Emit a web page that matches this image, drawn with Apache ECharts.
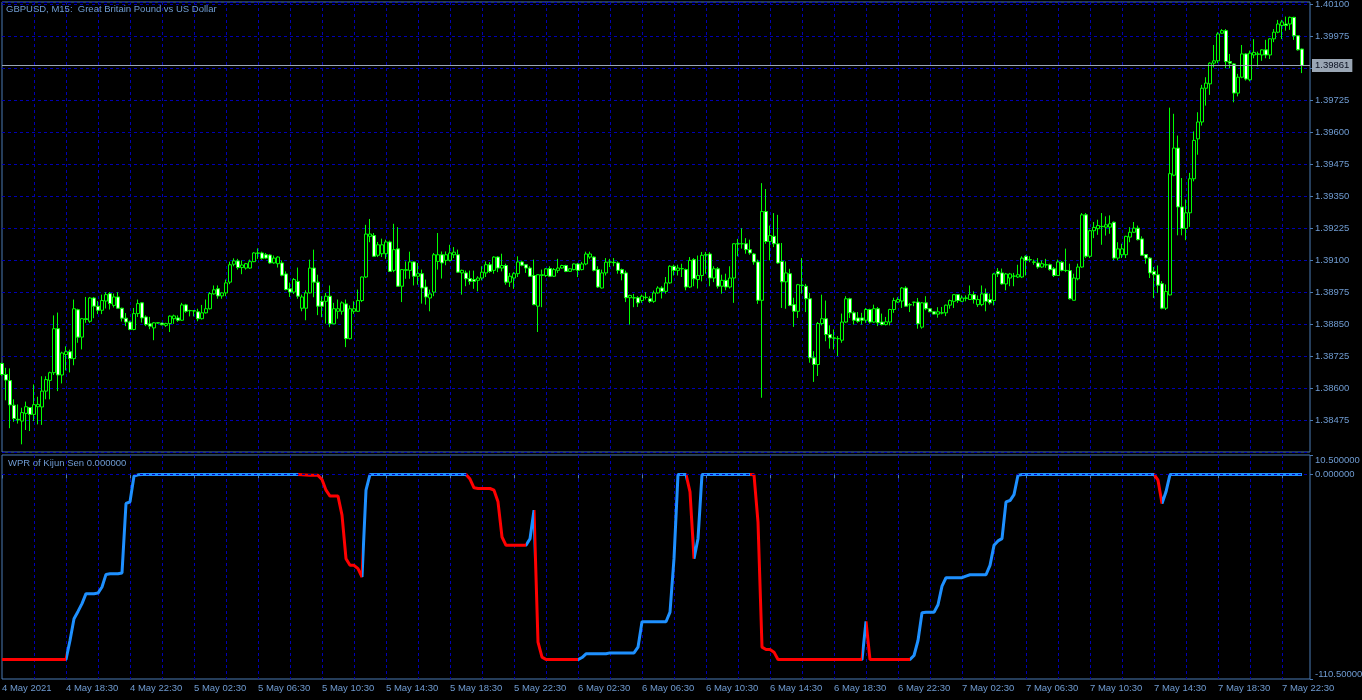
<!DOCTYPE html>
<html>
<head>
<meta charset="utf-8">
<script src="https://cdn.jsdelivr.net/npm/echarts@6/dist/echarts.min.js"></script>
<style>
html,body{margin:0;padding:0;background:#000;}
#c{width:1362px;height:700px;}
</style>
</head>
<body>
<div id="c"></div>
<script>
// ---------- data ----------
const symbolTitle = 'GBPUSD, M15:  Great Britain Pound vs US Dollar';
const indicatorTitle = 'WPR of Kijun Sen 0.000000';
const firstDateLabel = '4 May 2021';
const startTimeUTC = Date.UTC(2021, 4, 4, 14, 30); // first bar: 4 May 14:30, M15 bars
const barMinutes = 15;
const lastPrice = 1.39861;

const openP = [
1.38696,1.38653,1.38629,1.38533,1.38478,1.38471,1.38501,1.38524,1.38497,1.38527,
1.38526,1.38588,1.38630,1.38660,1.38832,1.38651,1.38731,1.38742,1.38715,1.38906,
1.38799,1.38871,1.38861,1.38952,1.38920,1.38904,1.38940,1.38969,1.38923,1.38956,
1.38912,1.38873,1.38858,1.38829,1.38891,1.38933,1.38878,1.38851,1.38835,1.38855,
1.38854,1.38845,1.38852,1.38871,1.38874,1.38865,1.38925,1.38903,1.38902,1.38898,
1.38871,1.38894,1.38910,1.38968,1.38988,1.38960,1.38972,1.39014,1.39084,1.39097,
1.39071,1.39069,1.39069,1.39094,1.39128,1.39128,1.39121,1.39120,1.39089,1.39086,
1.39089,1.39046,1.38988,1.38975,1.39017,1.38912,1.38912,1.38972,1.39069,1.39014,
1.38939,1.38939,1.38959,1.38851,1.38900,1.38900,1.38929,1.38793,1.38900,1.38900,
1.38942,1.39034,1.39193,1.39196,1.39119,1.39125,1.39125,1.39171,1.39060,1.39144,
1.38998,1.39060,1.39060,1.39093,1.39037,1.39047,1.38995,1.38952,1.38975,1.39095,
1.39121,1.39099,1.39099,1.39121,1.39121,1.39050,1.39050,1.39028,1.39024,1.39021,
1.39030,1.39050,1.39082,1.39060,1.39112,1.39069,1.39079,1.39014,1.39030,1.39047,
1.39093,1.39082,1.39069,1.39040,1.38920,1.39040,1.39040,1.39067,1.39037,1.39060,
1.39069,1.39079,1.39056,1.39063,1.39085,1.39063,1.39085,1.39112,1.39112,1.39063,
1.38991,1.39050,1.39092,1.39092,1.39089,1.39063,1.39050,1.38953,1.38953,1.38953,
1.38942,1.38955,1.38949,1.38939,1.38972,1.38991,1.38978,1.39011,1.39076,1.39060,
1.39066,1.39063,1.38995,1.39102,1.39024,1.39040,1.39121,1.39124,1.39030,1.39066,
1.38998,1.39021,1.38995,1.39030,1.39164,1.39164,1.39164,1.39141,1.39124,1.39093,
1.38943,1.39290,1.39173,1.39193,1.39164,1.39095,1.39015,1.39047,1.38926,1.38900,
1.39002,1.38998,1.38949,1.38718,1.38692,1.38852,1.38871,1.38809,1.38796,1.38793,
1.38787,1.38858,1.38949,1.38894,1.38874,1.38874,1.38865,1.38907,1.38858,1.38910,
1.38858,1.38848,1.38858,1.38907,1.38936,1.38940,1.38991,1.38926,1.38935,1.38936,
1.38838,1.38933,1.38910,1.38898,1.38889,1.38894,1.38894,1.38924,1.38939,1.38965,
1.38939,1.38952,1.38946,1.38965,1.38926,1.38926,1.38969,1.38946,1.38942,1.39056,
1.39050,1.39007,1.39030,1.39037,1.39034,1.39034,1.39115,1.39102,1.39093,1.39089,
1.39073,1.39082,1.39082,1.39066,1.39040,1.39092,1.39060,1.39059,1.38943,1.39027,
1.39073,1.39277,1.39115,1.39215,1.39223,1.39232,1.39229,1.39229,1.39248,1.39108,
1.39121,1.39121,1.39190,1.39209,1.39225,1.39183,1.39122,1.39108,1.39056,1.39043,
1.39008,1.38912,1.38964,1.39432,1.39538,1.39308,1.39224,1.39285,1.39418,1.39574,
1.39640,1.39772,1.39789,1.39870,1.39879,1.39987,1.39997,1.39876,1.39867,1.39753,
1.39815,1.39906,1.39805,1.39902,1.39906,1.39902,1.39922,1.39902,1.39965,1.39991,
1.40017,1.40023,1.40023,1.40049,1.39977,1.39925
];
const closeP = [
1.38653,1.38631,1.38534,1.38481,1.38475,1.38504,1.38527,1.38497,1.38535,1.38536,
1.38588,1.38633,1.38660,1.38832,1.38651,1.38737,1.38742,1.38715,1.38910,1.38799,
1.38871,1.38868,1.38952,1.38920,1.38904,1.38942,1.38965,1.38930,1.38956,1.38912,
1.38873,1.38858,1.38829,1.38891,1.38930,1.38874,1.38848,1.38842,1.38855,1.38854,
1.38847,1.38852,1.38881,1.38882,1.38865,1.38925,1.38900,1.38902,1.38901,1.38871,
1.38894,1.38910,1.38969,1.38984,1.38960,1.38972,1.39011,1.39082,1.39097,1.39071,
1.39081,1.39086,1.39094,1.39128,1.39127,1.39107,1.39108,1.39089,1.39108,1.39112,
1.39041,1.38985,1.38975,1.39024,1.38959,1.38956,1.38972,1.39069,1.39014,1.38920,
1.38920,1.38959,1.38851,1.38910,1.38910,1.38933,1.38793,1.38910,1.38910,1.38942,
1.39034,1.39202,1.39202,1.39115,1.39160,1.39160,1.39171,1.39056,1.39141,1.38998,
1.39063,1.39063,1.39093,1.39037,1.39047,1.38991,1.38956,1.38968,1.39121,1.39121,
1.39089,1.39121,1.39128,1.39131,1.39053,1.39060,1.39027,1.39017,1.39017,1.39030,
1.39053,1.39082,1.39056,1.39112,1.39069,1.39079,1.39014,1.39037,1.39047,1.39093,
1.39080,1.39069,1.39037,1.38926,1.39043,1.39043,1.39066,1.39037,1.39063,1.39069,
1.39079,1.39056,1.39066,1.39085,1.39060,1.39085,1.39124,1.39124,1.39060,1.38995,
1.39050,1.39092,1.39093,1.39090,1.39060,1.39047,1.38953,1.38962,1.38952,1.38933,
1.38959,1.38954,1.38939,1.38972,1.38991,1.38978,1.39011,1.39076,1.39060,1.39069,
1.39067,1.38995,1.39099,1.39027,1.39040,1.39119,1.39120,1.39030,1.39066,1.38998,
1.39021,1.38995,1.39030,1.39164,1.39163,1.39164,1.39141,1.39128,1.39093,1.38943,
1.39290,1.39173,1.39196,1.39164,1.39089,1.39015,1.39050,1.38923,1.38900,1.39004,
1.39001,1.38949,1.38718,1.38692,1.38852,1.38871,1.38809,1.38796,1.38795,1.38793,
1.38858,1.38949,1.38894,1.38865,1.38861,1.38865,1.38907,1.38858,1.38910,1.38855,
1.38848,1.38859,1.38907,1.38942,1.38946,1.38991,1.38920,1.38925,1.38936,1.38851,
1.38933,1.38910,1.38898,1.38889,1.38898,1.38893,1.38924,1.38942,1.38965,1.38942,
1.38952,1.38951,1.38965,1.38946,1.38946,1.38968,1.38939,1.38933,1.39046,1.39046,
1.39007,1.39046,1.39046,1.39038,1.39043,1.39108,1.39099,1.39101,1.39092,1.39073,
1.39086,1.39081,1.39063,1.39040,1.39093,1.39060,1.39059,1.38949,1.39030,1.39073,
1.39277,1.39115,1.39215,1.39228,1.39235,1.39231,1.39238,1.39242,1.39108,1.39144,
1.39144,1.39193,1.39209,1.39225,1.39180,1.39119,1.39108,1.39050,1.39043,1.39002,
1.38912,1.38977,1.39438,1.39538,1.39308,1.39224,1.39285,1.39418,1.39568,1.39640,
1.39772,1.39792,1.39870,1.39879,1.39984,1.39997,1.39876,1.39870,1.39753,1.39815,
1.39906,1.39808,1.39909,1.39912,1.39905,1.39922,1.39902,1.39965,1.39991,1.40023,
1.40031,1.40017,1.40049,1.39977,1.39922,1.39861
];
const lowP = [
1.38647,1.38552,1.38443,1.38468,1.38461,1.38380,1.38436,1.38432,1.38471,1.38458,
1.38456,1.38556,1.38556,1.38651,1.38588,1.38618,1.38669,1.38661,1.38689,1.38777,
1.38751,1.38855,1.38855,1.38873,1.38889,1.38889,1.38911,1.38907,1.38915,1.38910,
1.38860,1.38842,1.38826,1.38826,1.38878,1.38856,1.38842,1.38830,1.38787,1.38852,
1.38846,1.38839,1.38819,1.38851,1.38859,1.38863,1.38894,1.38880,1.38880,1.38861,
1.38868,1.38891,1.38907,1.38965,1.38949,1.38949,1.38959,1.39006,1.39076,1.39063,
1.39045,1.39063,1.39066,1.39092,1.39105,1.39102,1.39105,1.39086,1.39086,1.39071,
1.39037,1.38982,1.38956,1.38968,1.38949,1.38900,1.38865,1.38970,1.38955,1.38885,
1.38877,1.38852,1.38838,1.38849,1.38871,1.38887,1.38760,1.38790,1.38890,1.38898,
1.38936,1.39030,1.39170,1.39112,1.39112,1.39112,1.39105,1.39054,1.39053,1.38996,
1.38936,1.39027,1.39027,1.39001,1.39004,1.38930,1.38926,1.38900,1.38959,1.39063,
1.39028,1.39080,1.39095,1.39108,1.39050,1.38965,1.38998,1.39004,1.38988,1.38978,
1.39021,1.39034,1.39050,1.39047,1.39053,1.39056,1.39004,1.38995,1.38988,1.39034,
1.39076,1.39050,1.39034,1.38924,1.38819,1.38916,1.39034,1.39034,1.39034,1.39050,
1.39067,1.39053,1.39054,1.39060,1.39034,1.39060,1.39080,1.39105,1.39056,1.38991,
1.38989,1.39040,1.39073,1.39076,1.39047,1.39021,1.38936,1.38848,1.38916,1.38917,
1.38933,1.38946,1.38933,1.38933,1.38969,1.38950,1.38969,1.39008,1.39040,1.39040,
1.39034,1.38982,1.38991,1.38998,1.38989,1.39017,1.39047,1.38998,1.39014,1.38989,
1.38969,1.38982,1.38989,1.38933,1.39115,1.39145,1.39125,1.39121,1.39082,1.38929,
1.38562,1.39164,1.39099,1.39151,1.39086,1.38913,1.38910,1.38920,1.38839,1.38874,
1.38969,1.38897,1.38699,1.38624,1.38647,1.38845,1.38783,1.38754,1.38751,1.38725,
1.38777,1.38855,1.38874,1.38848,1.38855,1.38848,1.38855,1.38852,1.38855,1.38842,
1.38845,1.38845,1.38845,1.38894,1.38933,1.38913,1.38917,1.38897,1.38920,1.38832,
1.38832,1.38904,1.38897,1.38888,1.38875,1.38888,1.38881,1.38910,1.38913,1.38933,
1.38936,1.38939,1.38945,1.38930,1.38917,1.38920,1.38900,1.38926,1.38923,1.39034,
1.39004,1.38982,1.38998,1.38998,1.39030,1.39030,1.39040,1.39092,1.39082,1.39066,
1.39070,1.39070,1.39059,1.39034,1.39040,1.39056,1.39053,1.38946,1.38943,1.39021,
1.39070,1.39108,1.39108,1.39186,1.39199,1.39160,1.39196,1.39203,1.39099,1.39099,
1.39108,1.39108,1.39170,1.39207,1.39177,1.39118,1.39086,1.39030,1.38952,1.38972,
1.38908,1.38905,1.38962,1.39428,1.39197,1.39197,1.39178,1.39230,1.39408,1.39512,
1.39626,1.39704,1.39746,1.39853,1.39870,1.39985,1.39850,1.39850,1.39717,1.39740,
1.39811,1.39802,1.39799,1.39889,1.39857,1.39879,1.39889,1.39886,1.39952,1.39987,
1.39964,1.39997,1.40000,1.39961,1.39919,1.39831
];
const highP = [
1.38699,1.38679,1.38677,1.38556,1.38536,1.38523,1.38547,1.38526,1.38614,1.38566,
1.38646,1.38646,1.38664,1.38884,1.38895,1.38742,1.38763,1.38750,1.38946,1.38910,
1.38874,1.38956,1.38956,1.38956,1.38940,1.38965,1.38975,1.38975,1.38969,1.38975,
1.38914,1.38893,1.38863,1.38913,1.38946,1.38935,1.38884,1.38878,1.38858,1.38856,
1.38855,1.38855,1.38884,1.38887,1.38884,1.38933,1.38929,1.38906,1.38904,1.38910,
1.38925,1.38946,1.38975,1.39001,1.39001,1.38974,1.39024,1.39094,1.39107,1.39105,
1.39099,1.39089,1.39102,1.39131,1.39146,1.39133,1.39128,1.39123,1.39118,1.39115,
1.39099,1.39056,1.39012,1.39030,1.39071,1.38965,1.38982,1.39102,1.39141,1.39043,
1.38959,1.38972,1.39001,1.38933,1.38946,1.38939,1.38946,1.38923,1.38939,1.38985,
1.39036,1.39238,1.39261,1.39206,1.39171,1.39184,1.39180,1.39176,1.39242,1.39229,
1.39065,1.39095,1.39133,1.39095,1.39089,1.39063,1.39024,1.38985,1.39128,1.39206,
1.39134,1.39134,1.39160,1.39151,1.39141,1.39063,1.39059,1.39059,1.39059,1.39037,
1.39076,1.39095,1.39092,1.39115,1.39115,1.39125,1.39086,1.39050,1.39053,1.39115,
1.39098,1.39084,1.39076,1.39102,1.39045,1.39063,1.39069,1.39076,1.39069,1.39105,
1.39082,1.39082,1.39069,1.39087,1.39089,1.39093,1.39133,1.39133,1.39115,1.39076,
1.39063,1.39108,1.39105,1.39108,1.39095,1.39067,1.39059,1.38965,1.38968,1.38959,
1.38965,1.38975,1.38959,1.38981,1.38998,1.38998,1.39034,1.39080,1.39082,1.39082,
1.39086,1.39067,1.39112,1.39108,1.39118,1.39132,1.39132,1.39131,1.39076,1.39073,
1.39043,1.39047,1.39076,1.39166,1.39183,1.39225,1.39186,1.39180,1.39128,1.39102,
1.39401,1.39378,1.39235,1.39284,1.39277,1.39167,1.39095,1.39066,1.38953,1.39007,
1.39108,1.39007,1.38972,1.38744,1.38858,1.38965,1.38942,1.38845,1.38829,1.38803,
1.38891,1.38959,1.38953,1.38900,1.38897,1.38894,1.38913,1.38910,1.38926,1.38917,
1.38891,1.38878,1.38910,1.38953,1.38955,1.38995,1.38998,1.38933,1.38937,1.38952,
1.38936,1.38959,1.38913,1.38901,1.38916,1.38917,1.38926,1.38946,1.38966,1.38966,
1.38962,1.38962,1.39001,1.38978,1.38962,1.39001,1.38989,1.38969,1.39050,1.39069,
1.39067,1.39050,1.39050,1.39050,1.39082,1.39115,1.39119,1.39115,1.39102,1.39108,
1.39099,1.39105,1.39086,1.39073,1.39102,1.39096,1.39145,1.39086,1.39047,1.39086,
1.39284,1.39284,1.39219,1.39249,1.39258,1.39284,1.39271,1.39275,1.39251,1.39170,
1.39164,1.39195,1.39229,1.39249,1.39235,1.39193,1.39123,1.39112,1.39073,1.39079,
1.39018,1.39005,1.39696,1.39672,1.39587,1.39421,1.39337,1.39441,1.39603,1.39678,
1.39785,1.39815,1.39873,1.39941,1.39991,1.40003,1.40003,1.39906,1.39870,1.39828,
1.39941,1.39909,1.39919,1.39964,1.39915,1.39924,1.39961,1.39967,1.40003,1.40039,
1.40039,1.40052,1.40052,1.40051,1.39979,1.39927
];
// WPR of Kijun Sen, one value per bar
const wpr = [
-100,-100,-100,-100,-100,-100,-100,-100,-100,-100,
-100,-100,-100,-100,-100,-100,-100,-89.7,-78,-74,
-69.8,-64.4,-64.4,-64.4,-64.1,-60.8,-54,-53.6,-53.6,-53.6,
-53.2,-15.7,-14.8,-0.9,-0.2,0,0,0,0,0,
0,0,0,0,0,0,0,0,0,0,
0,0,0,0,0,0,0,0,0,0,
0,0,0,0,0,0,0,0,0,0,
0,0,0,0,0,-0.2,-0.3,-0.4,-0.45,-0.5,
-2.7,-8.5,-11.7,-11.7,-11.7,-22,-45.5,-49.1,-49.1,-50.9,
-55.4,-8.5,0,0,0,0,0,0,0,0,
0,0,0,0,0,0,0,0,0,0,
0,0,0,0,0,0,0,-2.5,-7.2,-7.6,
-7.6,-7.6,-7.6,-8.5,-14.8,-33.8,-38.3,-38.3,-38.3,-38.3,
-38.3,-38.3,-34.7,-19.3,-90.6,-98.7,-100,-100,-100,-100,
-100,-100,-100,-100,-100,-98.9,-96.9,-96.9,-96.9,-96.9,
-96.9,-96.9,-96.4,-96.4,-96.4,-96.4,-96.4,-96.4,-96.4,-93.3,
-79.6,-79.6,-79.6,-79.6,-79.6,-79.6,-79.6,-74.4,-45.5,0,
0,0,-9.4,-45.5,-34.7,0,0,0,0,0,
0,0,0,0,0,0,0,0,-0.2,-25.7,
-93.3,-94.6,-94.6,-96,-100,-100,-100,-100,-100,-100,
-100,-100,-100,-100,-100,-100,-100,-100,-100,-100,
-100,-100,-100,-100,-100,-100,-79.4,-100,-100,-100,
-100,-100,-100,-100,-100,-100,-100,-100,-97.8,-89.7,
-74.7,-74.4,-74.4,-74.4,-70.4,-60.3,-55.8,-55.8,-55.8,-55.8,
-55.8,-54.9,-54.2,-54.2,-54.2,-54.2,-54.2,-49.1,-38.3,-35.9,
-34.7,-14.8,-14.1,-10.9,-0.4,0,0,0,0,0,
0,0,0,0,0,0,0,0,0,0,
0,0,0,0,0,0,0,0,0,0,
0,0,0,0,0,0,0,0,0,-3.1,
-15.7,-9.4,0,0,0,0,0,0,0,0,
0,0,0,0,0,0,0,0,0,0,
0,0,0,0,0,0,0,0,0,0,
0,0,0,0,0,0
];
const wprAxisLabels = [-110.5, 0, 10.5];
const priceTickStep = 0.00125;

// ---------- styles ----------
const BG = '#000000';
const TEXT = '#6f9bd1';
const BORDER = '#4a7ab4';
const GRIDC = '#0000b4';
const FONT = '"Liberation Sans", Arial, sans-serif';
const FS = 9.5;
const UP_COLOR = '#1e90ff';
const DOWN_COLOR = '#ff0000';

// category labels (bar times)
const MONTHS = ['Jan','Feb','Mar','Apr','May','Jun','Jul','Aug','Sep','Oct','Nov','Dec'];
const pad = n => (n < 10 ? '0' : '') + n;
const categories = openP.map((_, i) => {
  const d = new Date(startTimeUTC + i * barMinutes * 60000);
  return d.getUTCDate() + ' ' + MONTHS[d.getUTCMonth()] + ' ' + pad(d.getUTCHours()) + ':' + pad(d.getUTCMinutes());
});
categories.push('', ''); // right-hand chart shift (empty slots)

const candles = openP.map((o, i) => [o, closeP[i], lowP[i], highP[i]]);

// colour of each WPR segment follows its direction
const segDir = [];
let cur = 'down';
for (let i = 0; i < wpr.length; i++) {
  if (i > 0) {
    if (wpr[i] < wpr[i - 1]) cur = 'down';
    else if (wpr[i] > wpr[i - 1]) cur = 'up';
  }
  segDir.push(cur);
}
const pieces = [];
let runStart = 0;
for (let i = 2; i <= wpr.length; i++) {
  if (i === wpr.length || segDir[i] !== segDir[i - 1]) {
    const col = segDir[i - 1] === 'up' ? UP_COLOR : DOWN_COLOR;
    if (i === wpr.length) pieces.push({ gte: runStart, lte: 100000, color: col });
    else pieces.push({ gte: runStart, lt: i - 1, color: col });
    runStart = i - 1;
  }
}
pieces[0].gte = -100000;

const labelEvery = 16, gridEvery = 8;

const chart = echarts.init(document.getElementById('c'));
chart.setOption({
  backgroundColor: BG,
  animation: false,
  title: [
    { text: symbolTitle, left: 6, top: 4, padding: 0,
      textStyle: { color: TEXT, fontSize: FS, fontWeight: 'normal', fontFamily: FONT } },
    { text: indicatorTitle, left: 8, top: 458, padding: 0,
      textStyle: { color: TEXT, fontSize: FS, fontWeight: 'normal', fontFamily: FONT } }
  ],
  grid: [
    { left: 2, top: 2, width: 1308, height: 450, show: true, borderColor: BORDER, borderWidth: 1,
      backgroundColor: 'transparent', containLabel: false, outerBoundsMode: 'none' },
    { left: 2, top: 455, width: 1308, height: 224, show: true, borderColor: BORDER, borderWidth: 1,
      backgroundColor: 'transparent', containLabel: false, outerBoundsMode: 'none' }
  ],
  xAxis: [
    { type: 'category', gridIndex: 0, data: categories, boundaryGap: false,
      axisLine: { show: false }, axisTick: { show: false }, axisLabel: { show: false },
      splitLine: { show: true, interval: (i) => i > 0 && i % gridEvery === 0,
        lineStyle: { color: GRIDC, type: [3, 3], width: 1 } } },
    { type: 'category', gridIndex: 1, data: categories, boundaryGap: false,
      axisLine: { show: false },
      axisTick: { show: true, interval: (i) => i % labelEvery === 0 && i < openP.length, length: 4,
        lineStyle: { color: BORDER } },
      axisLabel: { show: true, interval: (i) => i % labelEvery === 0 && i < openP.length,
        align: 'left', margin: 4, color: TEXT, fontSize: FS, fontFamily: FONT,
        formatter: (v, i) => (i === 0 ? firstDateLabel : v) },
      splitLine: { show: true, interval: (i) => i > 0 && i % gridEvery === 0,
        lineStyle: { color: GRIDC, type: [3, 3], width: 1 } } }
  ],
  yAxis: [
    { type: 'value', gridIndex: 0, position: 'right', min: 1.3835, max: 1.40109, interval: priceTickStep,
      axisLine: { show: false },
      axisTick: { show: true, length: 3, lineStyle: { color: BORDER } },
      axisLabel: { color: TEXT, fontSize: FS, fontFamily: FONT, margin: 5,
        showMinLabel: false, showMaxLabel: false,
        formatter: (v) => (Math.abs(v - 1.3985) < 1e-7 ? '' : v.toFixed(5)) },
      splitLine: { show: true, lineStyle: { color: GRIDC, type: [3, 3], width: 1 } } },
    { type: 'value', gridIndex: 1, position: 'right', min: -110.5, max: 10.5,
      axisLine: { show: false },
      axisTick: { show: true, length: 3, customValues: wprAxisLabels, lineStyle: { color: BORDER } },
      axisLabel: { color: TEXT, fontSize: FS, fontFamily: FONT, margin: 5,
        customValues: wprAxisLabels,
        verticalAlignMinLabel: 'bottom', verticalAlignMaxLabel: 'top',
        formatter: (v) => v.toFixed(6) },
      splitLine: { show: false } }
  ],
  visualMap: [{ type: 'piecewise', show: false, dimension: 0, seriesIndex: 1, pieces: pieces }],
  series: [
    { type: 'candlestick', xAxisIndex: 0, yAxisIndex: 0, data: candles, barWidth: 3, clip: false,
      itemStyle: { color: '#000000', color0: '#ffffff', borderColor: '#00ff00', borderColor0: '#00ff00', borderWidth: 1 },
      markLine: { silent: true, symbol: ['none', 'none'], animation: false, precision: 5,
        data: [{ yAxis: lastPrice }],
        lineStyle: { color: '#9aa6b4', type: 'solid', width: 1 },
        label: { show: true, position: 'end', distance: 2, formatter: lastPrice.toFixed(5),
          backgroundColor: '#9aa6b4', color: '#0a1020', fontSize: FS, fontFamily: FONT,
          padding: [2, 3, 1, 3] } } },
    { type: 'line', xAxisIndex: 1, yAxisIndex: 1, data: wpr, showSymbol: false, symbol: 'none',
      lineStyle: { width: 3 }, z: 3,
      markLine: { silent: true, symbol: ['none', 'none'], animation: false, z: 5, precision: 5,
        data: [{ yAxis: 0 }], label: { show: false },
        lineStyle: { color: GRIDC, type: [3, 3], width: 1 } } }
  ]
});
</script>
</body>
</html>
